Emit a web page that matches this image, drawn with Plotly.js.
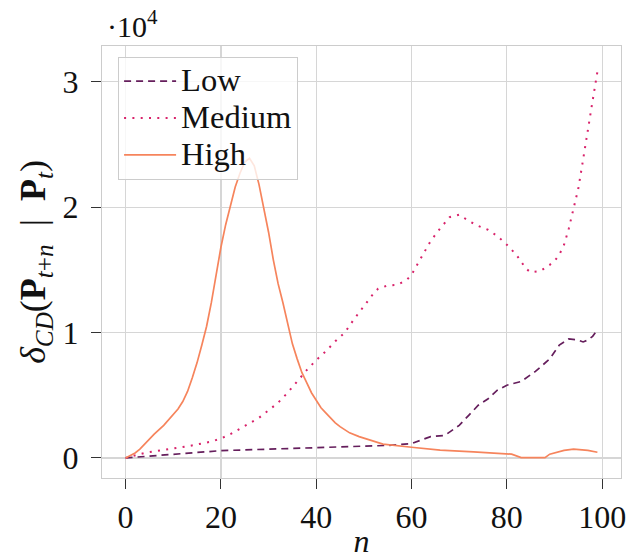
<!DOCTYPE html>
<html>
<head>
<meta charset="utf-8">
<script src="https://cdn.plot.ly/plotly-3.0.1.min.js"></script>
<style>html,body{margin:0;padding:0;background:#fff;}#chart{width:627px;height:559px;}</style>
</head>
<body>
<div id="chart"></div>
<script>
// values in units of 1e4
const lowN   = [0, 10, 20, 30, 40, 50, 55, 60, 62, 64, 67, 70, 72, 74, 76, 78, 80, 83, 86, 89, 91, 93, 95, 96, 97, 98, 99];
const lowV   = [0, 0.03, 0.058, 0.07, 0.083, 0.095, 0.10, 0.115, 0.14, 0.17, 0.18, 0.26, 0.34, 0.42, 0.47, 0.54, 0.58, 0.61, 0.69, 0.79, 0.90, 0.95, 0.94, 0.925, 0.94, 0.97, 1.02];

const medN   = [0, 4, 9, 13, 18, 20, 22, 24, 26, 28, 30, 32, 34, 36, 38, 40, 42, 44, 46, 48, 50, 52, 53, 55, 57, 59, 60, 62, 64, 66, 68, 70, 72, 74, 76, 78, 80, 82, 84, 85, 87, 89, 90, 91, 92, 93, 94, 95, 96, 97, 98, 99];
const medV   = [0, 0.04, 0.07, 0.093, 0.13, 0.155, 0.19, 0.235, 0.28, 0.32, 0.38, 0.44, 0.52, 0.61, 0.70, 0.78, 0.85, 0.93, 1.00, 1.11, 1.21, 1.31, 1.35, 1.375, 1.38, 1.42, 1.46, 1.59, 1.73, 1.83, 1.92, 1.94, 1.89, 1.85, 1.82, 1.77, 1.70, 1.62, 1.51, 1.48, 1.49, 1.54, 1.57, 1.62, 1.70, 1.83, 1.99, 2.15, 2.38, 2.60, 2.85, 3.08];

const highN  = [0, 1, 2, 3, 4, 5, 6, 8, 10, 11, 12, 13, 14, 15, 16, 17, 18, 19, 20, 21, 22, 23, 24, 25, 26, 27, 28, 29, 30, 31, 32, 33, 34, 35, 36, 37, 38, 39, 40, 41, 42, 43, 44, 45, 47, 49, 54, 60, 66, 73, 80, 81, 83, 88, 89, 91, 92, 94, 97, 99];
const highV  = [0, 0.02, 0.04, 0.07, 0.11, 0.15, 0.19, 0.26, 0.345, 0.39, 0.45, 0.53, 0.64, 0.76, 0.90, 1.05, 1.24, 1.46, 1.68, 1.86, 2.02, 2.16, 2.27, 2.36, 2.39, 2.33, 2.18, 1.99, 1.80, 1.58, 1.39, 1.24, 1.07, 0.91, 0.79, 0.68, 0.60, 0.52, 0.46, 0.40, 0.36, 0.32, 0.28, 0.25, 0.20, 0.17, 0.11, 0.085, 0.062, 0.048, 0.035, 0.03, 0.003, 0.002, 0.03, 0.048, 0.06, 0.07, 0.06, 0.045];

const seriesNames = ["Low", "Medium", "High"];
const xTicks = [0, 20, 40, 60, 80, 100];
const yTicks = [0, 1, 2, 3];

const FONT = '"Liberation Serif", "Times New Roman", serif';
const big = s => '<span style="font-size:32.5px">' + s + '</span>';

const traces = [
  {x: lowN, y: lowV, name: big(seriesNames[0]), mode: "lines",
   line: {color: "#651e5c", width: 1.7, dash: "7px,5px"}},
  {x: medN, y: medV, name: big(seriesNames[1]), mode: "lines",
   line: {color: "#d8226a", width: 2, dash: "2px,6.3px"}},
  {x: highN, y: highV, name: big(seriesNames[2]), mode: "lines",
   line: {color: "#f6845c", width: 1.7}}
];

const layout = {
  width: 627, height: 559,
  margin: {l: 102, r: 5.5, t: 46, b: 81, pad: 0},
  paper_bgcolor: "#fff", plot_bgcolor: "#fff",
  font: {family: FONT, size: 32, color: "#111"},
  showlegend: true,
  legend: {x: 0.031, y: 0.975, xanchor: "left", yanchor: "top",
           bgcolor: "rgba(255,255,255,0.8)", bordercolor: "#cccccc", borderwidth: 1,
           font: {family: FONT, size: 26, color: "#111"}, itemwidth: 52, tracegroupgap: 0},
  xaxis: {range: [-4.95, 103.95], tickvals: xTicks, ticktext: xTicks.map(String),
          showgrid: true, gridcolor: "#d6d6d6", gridwidth: 1.2,
          zeroline: false, showline: true, linecolor: "#cccccc", linewidth: 1.2, mirror: true,
          ticks: "outside", ticklen: 10, tickwidth: 1, tickcolor: "#333",
          tickfont: {family: FONT, size: 32, color: "#111"},
          title: {text: "<i>n</i>", font: {family: FONT, size: 32, color: "#111"}, standoff: 4}},
  yaxis: {range: [-0.16, 3.285], tickvals: yTicks, ticktext: yTicks.map(String),
          showgrid: true, gridcolor: "#d6d6d6", gridwidth: 1.2,
          zeroline: false, showline: true, linecolor: "#cccccc", linewidth: 1.2, mirror: true,
          ticks: "outside", ticklen: 10, tickwidth: 1, tickcolor: "#333",
          ticklabelstandoff: 6,
          tickfont: {family: FONT, size: 32, color: "#111"},
          title: {text: "<i>δ</i><sub><i>CD</i></sub>(<b>P</b><sub><i>t</i>+<i>n</i></sub>  |  <b>P</b><sub><i>t</i></sub>)",
                  font: {family: FONT, size: 36, color: "#111"}, standoff: 5}},
  annotations: [{xref: "paper", yref: "paper", x: 0.005, y: 1, xanchor: "left", yanchor: "bottom",
                 yshift: 1, showarrow: false, text: "·10<sup>4</sup>",
                 font: {family: FONT, size: 30, color: "#111"}}]
};

Plotly.newPlot("chart", traces, layout, {displayModeBar: false, staticPlot: true});
</script>
</body>
</html>
